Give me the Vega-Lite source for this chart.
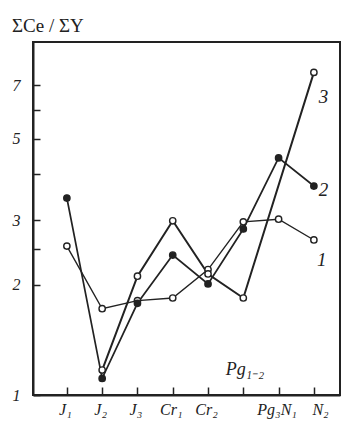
{
  "$schema": "https://vega.github.io/schema/vega-lite/v6.json",
  "width": 307,
  "height": 353,
  "autosize": {"type": "none"},
  "padding": {"left": 33, "top": 42, "right": 1, "bottom": 31},
  "background": "white",
  "config": {
    "view": {"stroke": "#222", "strokeWidth": 2},
    "axis": {
      "domainColor": "#222", "domainWidth": 2, "tickColor": "#222", "tickWidth": 1.5,
      "labelFont": "Liberation Serif", "labelFontStyle": "italic", "labelFontSize": 16,
      "labelColor": "#222", "grid": false
    }
  },
  "title": {
    "text": "ΣCe / ΣY", "anchor": "start", "frame": "bounds",
    "font": "Liberation Serif", "fontSize": 19, "fontWeight": "normal", "color": "#222", "offset": 6
  },
  "datasets": {
    "pts": [
      {"s": "1", "x": 1, "v": 2.55},
      {"s": "1", "x": 2, "v": 1.72},
      {"s": "1", "x": 3, "v": 1.81},
      {"s": "1", "x": 4, "v": 1.84},
      {"s": "1", "x": 5, "v": 2.2},
      {"s": "1", "x": 6, "v": 2.97},
      {"s": "1", "x": 7, "v": 3.02},
      {"s": "1", "x": 8, "v": 2.65},
      {"s": "2", "x": 1, "v": 3.45},
      {"s": "2", "x": 2, "v": 1.11},
      {"s": "2", "x": 3, "v": 1.78},
      {"s": "2", "x": 4, "v": 2.41},
      {"s": "2", "x": 5, "v": 2.01},
      {"s": "2", "x": 6, "v": 2.84},
      {"s": "2", "x": 7, "v": 4.44},
      {"s": "2", "x": 8, "v": 3.72},
      {"s": "3", "x": 2, "v": 1.17},
      {"s": "3", "x": 3, "v": 2.11},
      {"s": "3", "x": 4, "v": 2.99},
      {"s": "3", "x": 5, "v": 2.14},
      {"s": "3", "x": 6, "v": 1.84},
      {"s": "3", "x": 8, "v": 7.6}
    ],
    "lab": [
      {"t": "3", "x": 8.27, "v": 6.5},
      {"t": "2", "x": 8.27, "v": 3.63},
      {"t": "1", "x": 8.22, "v": 2.34}
    ],
    "pg": [
      {"t": "Pg₁₋₂", "x": 6.05, "v": 1.17}
    ]
  },
  "layer": [
    {
      "data": {"name": "pts"},
      "mark": {"type": "line", "color": "#222"},
      "encoding": {
        "x": {
          "field": "x", "type": "quantitative",
          "scale": {"domain": [0.04, 8.74], "nice": false, "zero": false},
          "axis": {
            "values": [1, 2, 3, 4, 5, 6, 7, 8],
            "labelExpr": "['','J₁','J₂','J₃','Cr₁','Cr₂','','Pg₃N₁','N₂'][datum.value]",
            "labelAlign": {"condition": {"test": "datum.value == 8", "value": "left"}, "value": "center"},
            "labelOffset": -2,
            "tickSize": -8, "labelPadding": 14, "labelAngle": 0, "title": null
          }
        },
        "y": {
          "field": "v", "type": "quantitative",
          "scale": {"type": "log", "domain": [1, 9.2], "nice": false, "zero": false},
          "axis": {
            "values": [1, 2, 2.5, 3, 4, 5, 6, 7],
            "labelExpr": "(datum.value == 2.5 || datum.value == 4 || datum.value == 6) ? '' : datum.label",
            "tickSize": -7, "labelPadding": 20, "title": null
          }
        },
        "detail": {"field": "s"},
        "order": {"field": "x"},
        "strokeWidth": {"field": "s", "type": "nominal", "scale": {"domain": ["1", "2", "3"], "range": [1.4, 2, 3]}, "legend": null}
      }
    },
    {
      "data": {"name": "pts"},
      "mark": {"type": "point", "shape": "circle", "filled": true, "stroke": "#222", "strokeWidth": 1.4, "size": 40, "opacity": 1},
      "encoding": {
        "x": {"field": "x", "type": "quantitative"},
        "y": {"field": "v", "type": "quantitative"},
        "fill": {"field": "s", "type": "nominal", "scale": {"domain": ["1", "2", "3"], "range": ["white", "#222", "white"]}, "legend": null}
      }
    },
    {
      "data": {"name": "lab"},
      "mark": {"type": "text", "font": "Liberation Serif", "fontStyle": "italic", "fontSize": 19, "color": "#222", "align": "center", "baseline": "middle"},
      "encoding": {
        "x": {"field": "x", "type": "quantitative"},
        "y": {"field": "v", "type": "quantitative"},
        "text": {"field": "t"}
      }
    },
    {
      "data": {"name": "pg"},
      "mark": {"type": "text", "font": "Liberation Serif", "fontStyle": "italic", "fontSize": 18, "color": "#222", "align": "center", "baseline": "middle"},
      "encoding": {
        "x": {"field": "x", "type": "quantitative"},
        "y": {"field": "v", "type": "quantitative"},
        "text": {"field": "t"}
      }
    }
  ]
}
